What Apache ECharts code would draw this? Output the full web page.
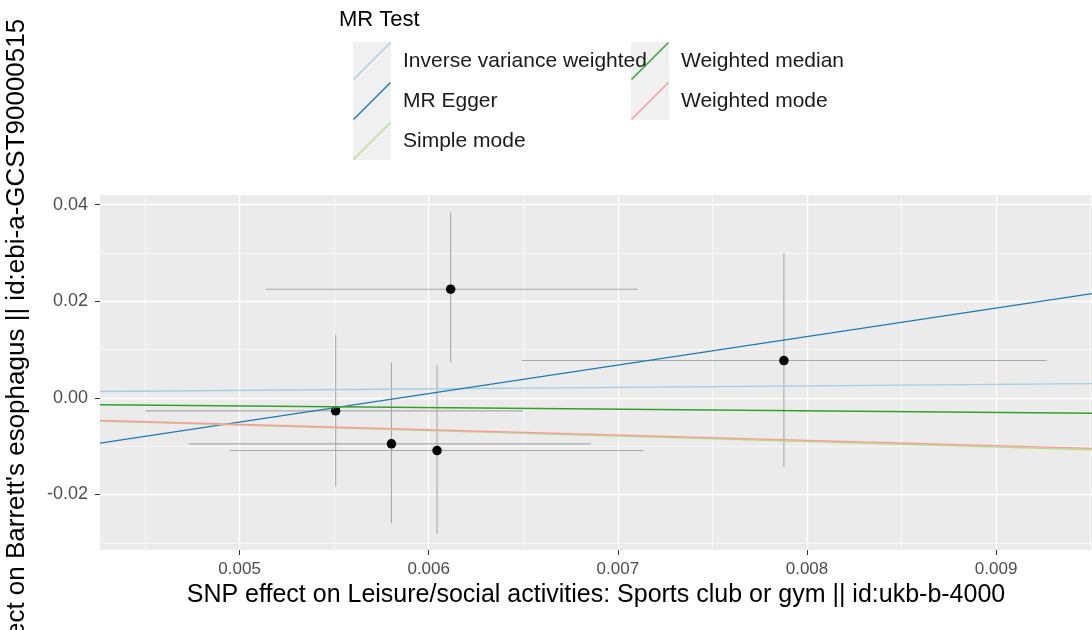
<!DOCTYPE html>
<html>
<head>
<meta charset="utf-8">
<script src="https://cdn.jsdelivr.net/npm/echarts@6/dist/echarts.min.js"></script>
<style>
html,body{margin:0;padding:0;background:#fff;}
#chart{width:1092px;height:630px;}
</style>
</head>
<body>
<div id="chart"></div>
<script>
// SNP-level data
const snpX    = [0.005508, 0.005803, 0.006044, 0.006116, 0.007878];
const snpY    = [-0.00269, -0.00952, -0.01091, 0.02250, 0.00772];
const snpXlo  = [0.004503, 0.004730, 0.004947, 0.005138, 0.006491];
const snpXhi  = [0.006497, 0.006857, 0.007135, 0.007106, 0.009267];
const snpYlo  = [-0.01836, -0.02594, -0.02816, 0.00731, -0.01422];
const snpYhi  = [0.01304, 0.00731, 0.00683, 0.03837, 0.02996];

// MR methods (abline: y = intercept + slope * x)
const methods    = ["Inverse variance weighted", "MR Egger", "Simple mode", "Weighted median", "Weighted mode"];
const slopes     = [0.31, 5.9, -1.13, -0.335, -1.10];
const intercepts = [0, -0.0345, 0, 0, 0];
const colors     = ["#a6cee3", "#1f78b4", "#b2df8a", "#33a02c", "#fb9a99"];

// axis ticks
const xTicks = [0.005, 0.006, 0.007, 0.008, 0.009];
const yTicks = [-0.02, 0.00, 0.02, 0.04];
const xRange = [0.004262, 0.009507];
const yRange = [-0.0315, 0.0420];

const chart = echarts.init(document.getElementById('chart'), null, {renderer: 'canvas'});
const FONT = '"Liberation Sans", Arial, sans-serif';

const errData = snpX.map((x, i) => [x, snpY[i], snpXlo[i], snpXhi[i], snpYlo[i], snpYhi[i]]);

const lineSeries = methods.map((m, i) => ({
  name: m,
  type: 'line',
  symbol: 'none',
  showSymbol: false,
  silent: true,
  animation: false,
  z: 5,
  lineStyle: {color: colors[i], width: 1.3},
  itemStyle: {color: colors[i]},
  data: [
    [xRange[0], intercepts[i] + slopes[i] * xRange[0]],
    [xRange[1], intercepts[i] + slopes[i] * xRange[1]]
  ]
}));

const legendIcon = 'path://M0,37L37,0L38,1L1,38Z';
const legendCommon = {
  orient: 'vertical',
  itemWidth: 38,
  itemHeight: 38,
  itemGap: 2,
  padding: 0,
  selectedMode: false,
  icon: legendIcon,
  itemStyle: {borderWidth: 0},
  textStyle: {fontFamily: FONT, fontSize: 21, color: '#1a1a1a', padding: [0, 0, 0, 7]}
};

chart.setOption({
  animation: false,
  backgroundColor: '#ffffff',
  title: {
    text: 'MR Test',
    left: 339, top: 9,
    padding: 0,
    textStyle: {fontFamily: FONT, fontSize: 22, fontWeight: 'normal', color: '#000'}
  },
  graphic: [
    {type: 'rect', left: 353, top: 42, shape: {width: 38, height: 118}, style: {fill: '#f0f0f0'}, z: -1, silent: true},
    {type: 'rect', left: 631, top: 42, shape: {width: 38, height: 78}, style: {fill: '#f0f0f0'}, z: -1, silent: true}
  ],
  legend: [
    Object.assign({left: 353, top: 42, data: methods.slice(0, 3)}, legendCommon),
    Object.assign({left: 631, top: 42, data: methods.slice(3)}, legendCommon)
  ],
  grid: {left: 100, right: 0, top: 195, bottom: 80, containLabel: false, outerBoundsMode: 'none',
         show: true, backgroundColor: '#ebebeb', borderWidth: 0},
  xAxis: {
    type: 'value',
    min: xRange[0], max: xRange[1],
    splitNumber: 5,
    name: 'SNP effect on Leisure/social activities: Sports club or gym || id:ukb-b-4000',
    nameLocation: 'middle',
    nameGap: 32,
    nameTextStyle: {fontFamily: FONT, fontSize: 25, color: '#000'},
    axisLine: {show: false, onZero: false},
    axisTick: {show: true, length: 5, lineStyle: {color: '#333', width: 1}, customValues: xTicks},
    axisLabel: {fontFamily: FONT, fontSize: 17, color: '#4d4d4d', margin: 11, customValues: xTicks,
                formatter: v => v.toFixed(3)},
    splitLine: {show: true, lineStyle: {color: '#ffffff', width: 1.3}},
    minorTick: {show: false, splitNumber: 2},
    minorSplitLine: {show: true, lineStyle: {color: '#ffffff', width: 0.6}}
  },
  yAxis: {
    type: 'value',
    min: yRange[0], max: yRange[1],
    splitNumber: 4,
    name: "SNP effect on Barrett's esophagus || id:ebi-a-GCST90000515",
    nameLocation: 'middle',
    nameGap: 70,
    nameTextStyle: {fontFamily: FONT, fontSize: 26, color: '#000'},
    axisLine: {show: false, onZero: false},
    axisTick: {show: true, length: 5, lineStyle: {color: '#333', width: 1}, customValues: yTicks},
    axisLabel: {fontFamily: FONT, fontSize: 18, color: '#4d4d4d', margin: 12, customValues: yTicks,
                formatter: v => v.toFixed(2)},
    splitLine: {show: true, lineStyle: {color: '#ffffff', width: 1.3}},
    minorTick: {show: false, splitNumber: 2},
    minorSplitLine: {show: true, lineStyle: {color: '#ffffff', width: 0.6}}
  },
  series: [
    {
      type: 'custom',
      silent: true,
      z: 2,
      data: errData,
      renderItem: function (params, api) {
        const xl = api.coord([api.value(2), api.value(1)]);
        const xh = api.coord([api.value(3), api.value(1)]);
        const yl = api.coord([api.value(0), api.value(4)]);
        const yh = api.coord([api.value(0), api.value(5)]);
        const st = {stroke: '#a9a9a9', lineWidth: 1.1};
        return {type: 'group', children: [
          {type: 'line', shape: {x1: xl[0], y1: xl[1], x2: xh[0], y2: xh[1]}, style: st},
          {type: 'line', shape: {x1: yl[0], y1: yl[1], x2: yh[0], y2: yh[1]}, style: st}
        ]};
      }
    },
    {
      type: 'scatter',
      silent: true,
      z: 3,
      symbolSize: 9.5,
      itemStyle: {color: '#000', opacity: 1},
      data: snpX.map((x, i) => [x, snpY[i]])
    }
  ].concat(lineSeries)
});
</script>
</body>
</html>
